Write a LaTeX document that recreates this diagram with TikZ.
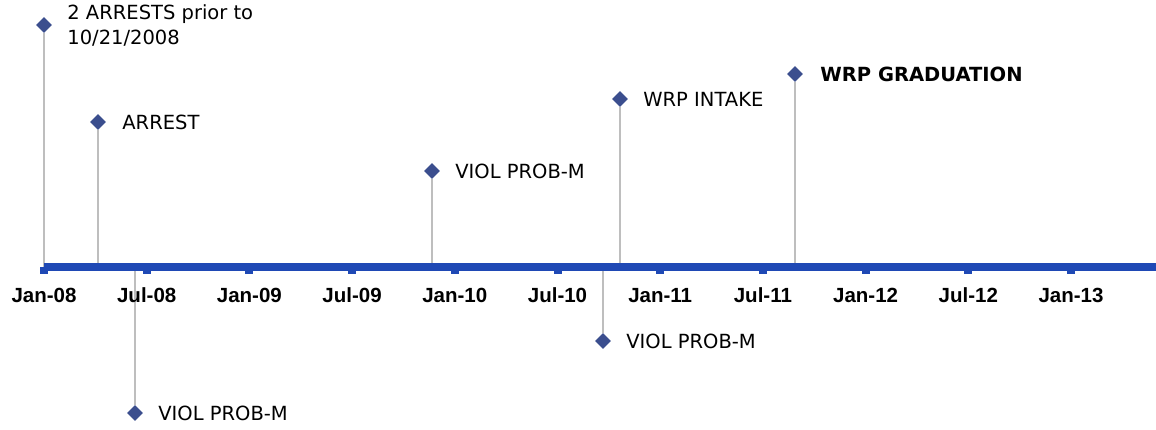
\documentclass[tikz,border=0pt]{standalone}
\usepackage{fontspec}
\setmainfont{DejaVu Sans}
\newfontfamily\tickfont{Liberation Sans}
\usetikzlibrary{shapes.geometric, positioning}
\definecolor{axeBleu}{RGB}{31,73,181}
\definecolor{pointBleu}{RGB}{59,78,142}
\definecolor{tigeGris}{RGB}{190,190,190}
\tikzset{
  evt/.style={diamond, fill=pointBleu, inner sep=0pt, minimum size=16pt},
  tige/.style={draw=tigeGris, line width=2.5pt},
  lbl/.style={inner sep=0pt, align=left, font=\fontsize{19.5}{25}\selectfont},
  datelbl/.style={inner sep=0pt, anchor=base, font=\tickfont\bfseries\fontsize{20.5}{24}\selectfont}
}
\begin{document}
\begin{tikzpicture}[x=1pt, y=-1pt]
        \useasboundingbox (0,0) rectangle (1156,429);

        % Evenements (losanges)
        \node[evt] (e1) at (44,25) {};
        \node[evt] (e2) at (98,122) {};
        \node[evt] (e3) at (135,413) {};
        \node[evt] (e4) at (432,171) {};
        \node[evt] (e5) at (603,341) {};
        \node[evt] (e6) at (620,99) {};
        \node[evt] (e7) at (795,74) {};

        % Pieds sur l'axe
        \coordinate (b1) at (44,267);
        \coordinate (b2) at (98,267);
        \coordinate (b3) at (135,267);
        \coordinate (b4) at (432,267);
        \coordinate (b5) at (603,267);
        \coordinate (b6) at (620,267);
        \coordinate (b7) at (795,267);

        % Tiges
        \foreach \k in {1,...,7} {
          \draw[tige] (b\k) -- (e\k);
        }

        % Axe du temps
        \coordinate (debut) at (44,267);
        \coordinate (fin) at (1156,267);
        \draw[axeBleu, line width=8pt] (debut) -- (fin);

        % Graduations et dates
        \foreach \i/\d in {0/Jan-08, 1/Jul-08, 2/Jan-09, 3/Jul-09, 4/Jan-10, 5/Jul-10,
                           6/Jan-11, 7/Jul-11, 8/Jan-12, 9/Jul-12, 10/Jan-13} {
          \fill[axeBleu] (40+102.7*\i,267) rectangle ++(8,6.5);
          \node[datelbl] (t\i) at (44+102.7*\i,302) {\d};
        }

        % Textes
        \node[lbl, right=15pt of e1] (l1) {2 ARRESTS prior to\\10/21/2008};
        \node[lbl, right=16pt of e2] (l2) {ARREST};
        \node[lbl, right=15pt of e3] (l3) {VIOL PROB-M};
        \node[lbl, right=15pt of e4] (l4) {VIOL PROB-M};
        \node[lbl, right=15pt of e5] (l5) {VIOL PROB-M};
        \node[lbl, right=15pt of e6] (l6) {WRP INTAKE};
        \node[lbl, right=17pt of e7, font=\bfseries\fontsize{19.5}{25}\selectfont] (l7) {WRP GRADUATION};
    \end{tikzpicture}
\end{document}
